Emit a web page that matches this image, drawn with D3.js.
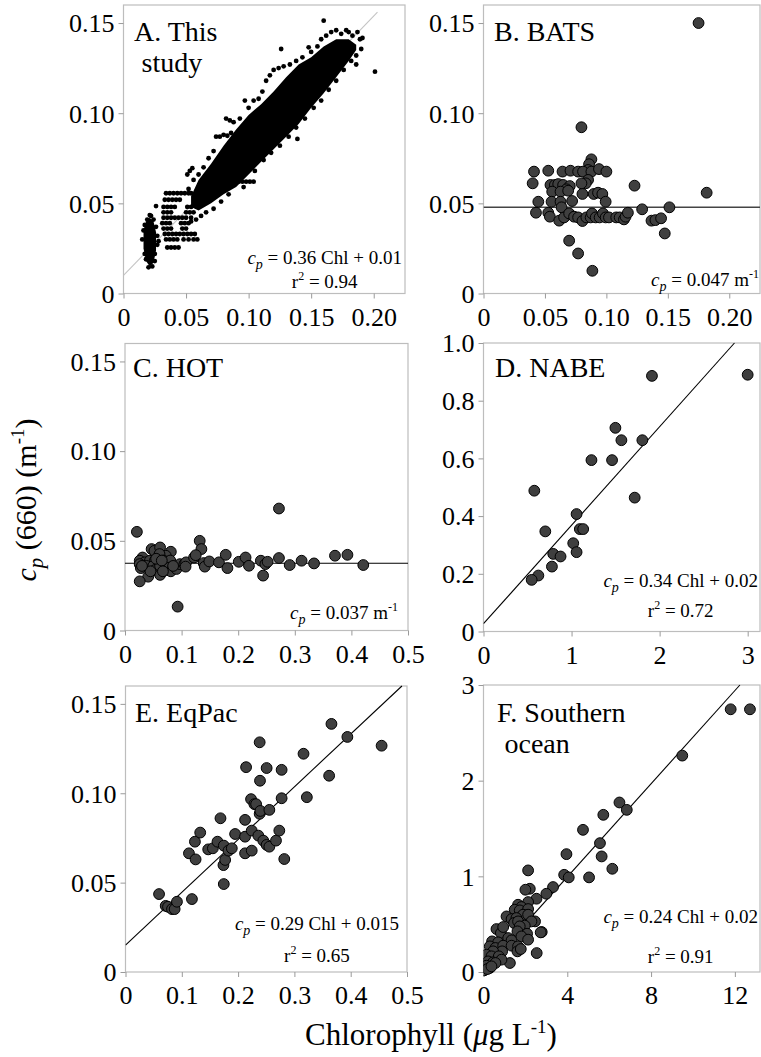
<!DOCTYPE html>
<html><head><meta charset="utf-8">
<script src="https://cdn.jsdelivr.net/npm/d3@7"></script>
<style>
body{margin:0;background:#fff;}
svg{display:block;}
text{font-family:"Liberation Serif","Times New Roman",serif;fill:#000;}
</style></head><body>
<svg id="chart" width="761" height="1057"></svg>
<script>
// ---------------- DATA ----------------
const panelTitles = [["A. This","study"],["B. BATS"],["C. HOT"],["D. NABE"],["E. EqPac"],["F. Southern","ocean"]];
const xMax = [0.225, 0.225, 0.5, 3.14, 0.5, 13.2];
const yMax = [0.16, 0.16, 0.16, 1.0, 0.16, 3];
const xTickVals = [[0,0.05,0.10,0.15,0.20],[0,0.05,0.10,0.15,0.20],[0,0.1,0.2,0.3,0.4,0.5],[0,1,2,3],[0,0.1,0.2,0.3,0.4,0.5],[0,4,8,12]];
const xTickLabels = [["0","0.05","0.10","0.15","0.20"],["0","0.05","0.10","0.15","0.20"],["0","0.1","0.2","0.3","0.4","0.5"],["0","1","2","3"],["0","0.1","0.2","0.3","0.4","0.5"],["0","4","8","12"]];
const yTickVals = [[0,0.05,0.10,0.15],[0,0.05,0.10,0.15],[0,0.05,0.10,0.15],[0,0.2,0.4,0.6,0.8,1.0],[0,0.05,0.10,0.15],[0,1,2,3]];
const yTickLabels = [["0","0.05","0.10","0.15"],["0","0.05","0.10","0.15"],["0","0.05","0.10","0.15"],["0","0.2","0.4","0.6","0.8","1.0"],["0","0.05","0.10","0.15"],["0","1","2","3"]];

// fit lines: [x0,y0,x1,y1]
const fitLines = [[0,0.010,0.203,0.156],[0,0.0478,0.225,0.0478],[0,0.0375,0.5,0.0375],[0,0.027,2.85,1.0],[0,0.015,0.491,0.16],[0,0.02,12.24,3.0]];
const eqTexts = [" = 0.36 Chl + 0.01"," = 0.047 m"," = 0.037 m"," = 0.34 Chl + 0.02"," = 0.29 Chl + 0.015"," = 0.24 Chl + 0.02"];
const r2Texts = ["0.94", null, null, "0.72", "0.65", "0.91"];

// Panel A: dense core of the cloud (upper / lower envelope)
const coreAx  = [0.054,0.060,0.070,0.080,0.090,0.100,0.110,0.120,0.130,0.140,0.150,0.160,0.170,0.180,0.186];
const coreAlo = [0.048,0.046,0.050,0.055,0.059,0.066,0.073,0.080,0.087,0.094,0.103,0.111,0.120,0.129,0.135];
const coreAhi = [0.054,0.063,0.072,0.082,0.091,0.099,0.105,0.112,0.120,0.127,0.131,0.137,0.141,0.141,0.138];
const leftAx  = [0.016,0.018,0.021,0.024,0.026];
const leftAlo = [0.025,0.018,0.015,0.017,0.024];
const leftAhi = [0.035,0.040,0.042,0.040,0.034];
// Panel A: individual points
const pointsA = [
[0.034,0.0556],[0.037,0.0556],[0.040,0.0556],[0.043,0.0556],[0.046,0.0556],[0.049,0.0556],[0.052,0.0556],[0.054,0.0556],
[0.033,0.052],[0.036,0.052],[0.039,0.052],[0.042,0.052],[0.045,0.052],
[0.032,0.048],[0.035,0.048],[0.038,0.048],[0.041,0.048],[0.051,0.048],[0.054,0.048],
[0.032,0.045],[0.035,0.045],[0.038,0.045],[0.050,0.045],[0.053,0.045],[0.056,0.045],
[0.032,0.042],[0.035,0.042],[0.038,0.042],[0.041,0.042],[0.044,0.042],[0.047,0.042],[0.050,0.042],[0.054,0.042],
[0.031,0.039],[0.034,0.039],[0.037,0.039],[0.046,0.039],[0.049,0.039],[0.052,0.039],
[0.032,0.036],[0.035,0.036],[0.038,0.036],[0.047,0.036],[0.050,0.036],
[0.033,0.033],[0.036,0.033],[0.039,0.033],[0.042,0.033],[0.045,0.033],[0.048,0.033],[0.051,0.033],[0.054,0.033],[0.057,0.033],
[0.034,0.030],[0.037,0.030],[0.040,0.030],[0.043,0.030],[0.048,0.030],[0.052,0.030],[0.056,0.030],[0.059,0.030],
[0.035,0.0255],[0.038,0.0255],[0.041,0.0255],[0.044,0.0255],
[0.015,0.030],[0.016,0.035],[0.021,0.0435],[0.022,0.043],[0.026,0.0485],[0.027,0.032],[0.028,0.029],[0.020,0.0145],[0.023,0.015],[0.025,0.018],
[0.017,0.038],[0.019,0.041],[0.024,0.041],[0.026,0.037],[0.017,0.022],[0.018,0.019],[0.025,0.022],[0.027,0.027],
[0.053,0.068],[0.055,0.0695],[0.051,0.066],
[0.052,0.058],[0.056,0.063],[0.060,0.066],[0.064,0.070],[0.068,0.075],[0.072,0.079],[0.074,0.087],[0.077,0.087],[0.080,0.088],[0.083,0.0875],[0.086,0.089],
[0.082,0.097],[0.085,0.096],[0.088,0.095],[0.093,0.097],[0.097,0.107],[0.100,0.103],[0.104,0.107],[0.108,0.108],[0.111,0.112],[0.114,0.118],
[0.117,0.121],[0.120,0.124],[0.124,0.125],[0.126,0.1356],[0.128,0.126],[0.133,0.127],[0.138,0.129],[0.143,0.131],[0.148,0.1365],[0.150,0.134],
[0.155,0.137],[0.158,0.141],[0.160,0.1513],[0.162,0.143],[0.166,0.145],[0.170,0.146],[0.174,0.144],[0.178,0.146],[0.180,0.145],[0.183,0.143],
[0.187,0.145],[0.189,0.141],[0.191,0.1417],[0.190,0.1356],[0.186,0.127],[0.201,0.123],
[0.054,0.040],[0.058,0.041],[0.062,0.043],[0.066,0.045],[0.072,0.047],[0.078,0.051],[0.084,0.055],[0.092,0.062],[0.095,0.062],[0.098,0.062],
[0.101,0.062],[0.104,0.062],[0.096,0.059],[0.105,0.068],[0.112,0.074],[0.118,0.078],[0.125,0.082],[0.132,0.087],[0.139,0.0857],[0.138,0.092],
[0.145,0.097],[0.152,0.103],[0.158,0.107],[0.164,0.113],[0.170,0.118],[0.176,0.124],[0.182,0.129],[0.186,0.132]
];
const pointsB = [
[0.175,0.150],[0.1816,0.0559],[0.0797,0.0922],[0.0878,0.0744],[0.0859,0.0717],[0.0851,0.0685],[0.0411,0.0676],[0.0527,0.0681],[0.0643,0.0676],
[0.0708,0.0681],[0.0770,0.0676],[0.0810,0.0676],[0.0878,0.0676],[0.094,0.069],[0.100,0.0676],[0.0851,0.063],[0.0832,0.0611],[0.0797,0.0611],
[0.0400,0.0611],[0.0545,0.0602],[0.0581,0.0602],[0.0608,0.0607],[0.0648,0.0602],[0.0702,0.0596],[0.0675,0.0578],[0.0559,0.0565],[0.0627,0.0565],
[0.0689,0.057],[0.0805,0.0552],[0.0897,0.0552],[0.0932,0.0559],[0.0967,0.0552],[0.1229,0.0598],[0.0994,0.0509],[0.0446,0.0509],[0.0554,0.0509],
[0.0627,0.0509],[0.0721,0.0513],[0.0427,0.0448],[0.0527,0.0448],[0.0540,0.0426],[0.0635,0.0478],[0.0616,0.0404],[0.0656,0.0422],[0.0697,0.0444],
[0.0737,0.0426],[0.0770,0.0422],[0.0805,0.0402],[0.0837,0.0422],[0.0872,0.0422],[0.0883,0.0444],[0.0913,0.0422],[0.0945,0.0422],[0.0972,0.0444],
[0.0994,0.0422],[0.1021,0.0422],[0.1080,0.0422],[0.1108,0.0422],[0.1143,0.0411],[0.1156,0.0426],[0.1175,0.0448],[0.1291,0.0467],[0.1367,0.0404],
[0.1399,0.0407],[0.1445,0.0417],[0.1513,0.0478],[0.1475,0.0333],[0.0697,0.0293],[0.0770,0.0222],[0.0886,0.0126]
];
const pointsC = [
[0.272,0.068],[0.021,0.055],[0.132,0.050],[0.135,0.0454],[0.047,0.0454],[0.052,0.0444],[0.062,0.0463],[0.081,0.0439],[0.072,0.0417],[0.061,0.0426],
[0.031,0.0407],[0.026,0.0389],[0.035,0.038],[0.044,0.0389],[0.053,0.039],[0.059,0.0383],[0.068,0.039],[0.074,0.038],[0.080,0.039],[0.026,0.037],
[0.028,0.0348],[0.038,0.036],[0.050,0.036],[0.053,0.0337],[0.062,0.036],[0.071,0.0337],[0.078,0.035],[0.081,0.033],[0.091,0.0343],[0.041,0.030],
[0.062,0.031],[0.026,0.0274],[0.093,0.0133],[0.097,0.037],[0.105,0.037],[0.108,0.038],[0.122,0.0407],[0.125,0.042],[0.107,0.0356],[0.139,0.0376],
[0.141,0.0356],[0.149,0.0385],[0.166,0.038],[0.178,0.0422],[0.181,0.0348],[0.201,0.0383],[0.213,0.0407],[0.219,0.0361],[0.240,0.0389],[0.244,0.0306],
[0.248,0.037],[0.252,0.0383],[0.272,0.0404],[0.291,0.0365],[0.312,0.0389],[0.334,0.0374],[0.371,0.0417],[0.393,0.0422],[0.421,0.0365],
[0.055,0.040],[0.065,0.039],[0.045,0.033],[0.067,0.033],[0.085,0.036],[0.030,0.036]
];
const pointsD = [
[1.913,0.886],[3.0,0.890],[1.498,0.706],[1.566,0.663],[1.804,0.663],[1.226,0.594],[1.460,0.594],[0.577,0.488],[1.717,0.464],[1.057,0.407],
[0.702,0.347],[1.094,0.355],[1.132,0.355],[1.019,0.306],[0.792,0.269],[1.057,0.275],[0.875,0.260],[0.777,0.225],[0.623,0.194],[0.547,0.179]
];
const pointsE = [
[0.0596,0.0436],[0.0714,0.037],[0.0755,0.0365],[0.0826,0.0352],[0.0873,0.0352],[0.0914,0.0393],[0.118,0.0408],[0.1127,0.0664],[0.1245,0.063],[0.1233,0.0729],
[0.1327,0.078],[0.1469,0.0686],[0.1552,0.0692],[0.1634,0.0729],[0.1687,0.086],[0.1746,0.0707],[0.174,0.0598],[0.177,0.0627],[0.1746,0.0492],[0.1829,0.0679],
[0.1888,0.0692],[0.1947,0.0772],[0.2124,0.0664],[0.2124,0.0757],[0.2124,0.0851],[0.2142,0.1146],[0.2242,0.0679],[0.2242,0.0791],[0.223,0.0967],[0.2289,0.0939],
[0.232,0.0939],[0.236,0.0763],[0.2383,0.0885],[0.2395,0.0901],[0.2383,0.1285],[0.2389,0.107],[0.2448,0.0735],[0.2507,0.1141],[0.2507,0.0711],[0.2555,0.0701],
[0.2555,0.0907],[0.2673,0.0735],[0.2732,0.0791],[0.2773,0.0972],[0.2773,0.1131],[0.282,0.0632],[0.3162,0.1221],[0.3221,0.0978],[0.3617,0.1098],[0.3658,0.1388],
[0.3941,0.1315],[0.4549,0.1266]
];
const pointsF = [
[11.80,2.746],[12.72,2.746],[9.49,2.262],[6.49,1.772],[6.84,1.695],[5.72,1.643],[4.75,1.486],[5.56,1.347],[5.64,1.208],[3.96,1.232],[6.15,1.079],
[3.85,1.016],[4.07,0.989],[5.04,0.989],[3.32,0.888],[3.00,0.818],[2.13,1.062],[2.21,0.870],[2.00,0.860],[2.53,0.766],[2.13,0.731],[2.78,0.418],
[2.46,0.529],[2.54,0.198],[1.65,0.703],[1.81,0.679],[1.49,0.651],[1.73,0.644],[2.13,0.658],[1.89,0.599],[1.10,0.581],[1.34,0.553],[1.57,0.564],
[2.13,0.599],[1.46,0.512],[1.65,0.529],[2.29,0.529],[1.97,0.484],[0.62,0.449],[0.83,0.407],[0.94,0.470],[1.73,0.477],[1.62,0.425],[2.08,0.400],
[2.73,0.414],[0.41,0.320],[0.70,0.310],[1.18,0.355],[1.34,0.331],[1.81,0.372],[2.13,0.338],[0.30,0.268],[0.57,0.251],[0.94,0.275],[1.34,0.275],
[1.65,0.268],[1.62,0.216],[1.78,0.240],[0.89,0.216],[0.46,0.216],[0.14,0.181],[0.38,0.164],[0.73,0.164],[1.26,0.094],[0.22,0.111],[0.46,0.101],
[0.86,0.129],[0.0,0.059],[0.14,0.066],[0.30,0.042],[0.57,0.094],[0.03,0.017],[0.19,0.031],[0.38,0.059]
];
const allPoints = [pointsA, pointsB, pointsC, pointsD, pointsE, pointsF];

// ---------------- LAYOUT ----------------
const layout = [
 {left:123.5,right:405,top:5,bottom:293.5, eqDy:30, r2Dy:6, eqRight:3, tx:10.5, ty:36},
 {left:483.5,right:760,top:5,bottom:293.5, eqDy:8, r2Dy:0, eqRight:1, tx:10.5, ty:36},
 {left:125,right:408,top:343.5,bottom:630.5, eqDy:12, r2Dy:0, eqRight:10, tx:8, ty:33},
 {left:483.5,right:760,top:343,bottom:631.5, eqDy:45, r2Dy:15, eqRight:2, tx:11.5, ty:34},
 {left:125.5,right:407,top:686,bottom:972, eqDy:42, r2Dy:10, eqRight:8, tx:9.5, ty:36},
 {left:483.5,right:760,top:685,bottom:972, eqDy:49, r2Dy:9, eqRight:2, tx:13.5, ty:37}
];
const svg = d3.select("#chart");
const TICK_FS = 26;

allPoints.forEach((pts, i) => {
  const L = layout[i];
  const x = d3.scaleLinear().domain([0, xMax[i]]).range([L.left, L.right]);
  const y = d3.scaleLinear().domain([0, yMax[i]]).range([L.bottom, L.top]);
  const g = svg.append("g");
  const clipId = "clip" + i;
  svg.append("clipPath").attr("id", clipId).append("rect")
     .attr("x", L.left).attr("y", L.top - 8).attr("width", L.right - L.left + 8).attr("height", L.bottom - L.top + 16);

  // frame
  g.append("rect").attr("x", L.left).attr("y", L.top).attr("width", L.right - L.left).attr("height", L.bottom - L.top)
    .attr("fill", "none").attr("stroke", "#bdbdbd").attr("stroke-width", 1.2);

  // axes
  const ax = g.append("g").attr("transform", `translate(0,${L.bottom})`)
    .call(d3.axisBottom(x).tickValues(xTickVals[i]).tickFormat((d, k) => xTickLabels[i][k]).tickSize(5).tickPadding(9));
  const ay = g.append("g").attr("transform", `translate(${L.left},0)`)
    .call(d3.axisLeft(y).tickValues(yTickVals[i]).tickFormat((d, k) => yTickLabels[i][k]).tickSize(5).tickPadding(4));
  [ax, ay].forEach(a => {
    a.select(".domain").remove();
    a.selectAll(".tick line").attr("stroke", "#9a9a9a");
    a.selectAll(".tick text").attr("font-size", TICK_FS).attr("fill", "#000")
      .attr("font-family", '"Liberation Serif","Times New Roman",serif');
  });
  ay.selectAll(".tick text").attr("dy", "0.34em");

  const plot = g.append("g").attr("clip-path", `url(#${clipId})`);
  // fit line
  const fl = fitLines[i];
  plot.append("line").attr("x1", x(fl[0])).attr("y1", y(fl[1])).attr("x2", x(fl[2])).attr("y2", y(fl[3]))
    .attr("stroke", i === 0 ? "#c4c4c4" : (i === 1 ? "#444" : "#000"))
    .attr("stroke-width", i === 1 ? 1.6 : 1.1);

  if (i === 0) {
    const area = d3.area().x(d => x(d[0])).y0(d => y(d[1])).y1(d => y(d[2]));
    plot.append("path").datum(coreAx.map((v, k) => [v, coreAlo[k], coreAhi[k]])).attr("d", area).attr("fill", "#000");
    plot.append("path").datum(leftAx.map((v, k) => [v, leftAlo[k], leftAhi[k]])).attr("d", area).attr("fill", "#000");
    plot.selectAll("circle.p").data(pts).enter().append("circle")
      .attr("cx", d => x(d[0])).attr("cy", d => y(d[1])).attr("r", 2.4).attr("fill", "#000");
  } else {
    plot.selectAll("circle.p").data(pts).enter().append("circle")
      .attr("cx", d => x(d[0])).attr("cy", d => y(d[1])).attr("r", 5.4)
      .attr("fill", "#3f3f3f").attr("stroke", "#000").attr("stroke-width", 1);
  }

  // panel title
  const t = g.append("text").attr("font-size", 28);
  panelTitles[i].forEach((line, k) => {
    t.append("tspan").attr("x", L.left + L.tx + (k > 0 ? 7.5 : 0)).attr("y", L.top + L.ty + k * 31).text(line);
  });

  // equation
  const eq = g.append("text").attr("font-size", 19).attr("text-anchor", "end")
    .attr("x", L.right - L.eqRight).attr("y", L.bottom - L.eqDy);
  eq.append("tspan").attr("font-style", "italic").text("c");
  eq.append("tspan").attr("font-style", "italic").attr("font-size", 14).attr("dy", 5).text("p");
  eq.append("tspan").attr("dy", -5).text(eqTexts[i]);
  if (!r2Texts[i]) {
    eq.append("tspan").attr("font-size", 12).attr("dy", -8).text("-1");
  } else {
    const bb = eq.node().getBBox();
    const r2 = g.append("text").attr("font-size", 19).attr("text-anchor", "middle")
      .attr("x", bb.x + bb.width / 2).attr("y", L.bottom - L.r2Dy);
    r2.append("tspan").text("r");
    r2.append("tspan").attr("font-size", 12).attr("dy", -8).text("2");
    r2.append("tspan").attr("dy", 8).text(" = " + r2Texts[i]);
  }
});

// axis titles
const yt = svg.append("text").attr("font-size", 30).attr("text-anchor", "middle")
  .attr("transform", "translate(36,500) rotate(-90)");
yt.append("tspan").attr("font-style", "italic").text("c");
yt.append("tspan").attr("font-style", "italic").attr("font-size", 21).attr("dy", 7).text("p");
yt.append("tspan").attr("dy", -7).text(" (660) (m");
yt.append("tspan").attr("font-size", 19).attr("dy", -12).text("-1");
yt.append("tspan").attr("dy", 12).text(")");

const xt = svg.append("text").attr("font-size", 31).attr("text-anchor", "middle")
  .attr("x", 431).attr("y", 1045);
xt.append("tspan").text("Chlorophyll (");
xt.append("tspan").attr("font-style", "italic").text("\u03BC");
xt.append("tspan").text("g L");
xt.append("tspan").attr("font-size", 19).attr("dy", -12).text("-1");
xt.append("tspan").attr("dy", 12).text(")");
</script>
</body></html>
